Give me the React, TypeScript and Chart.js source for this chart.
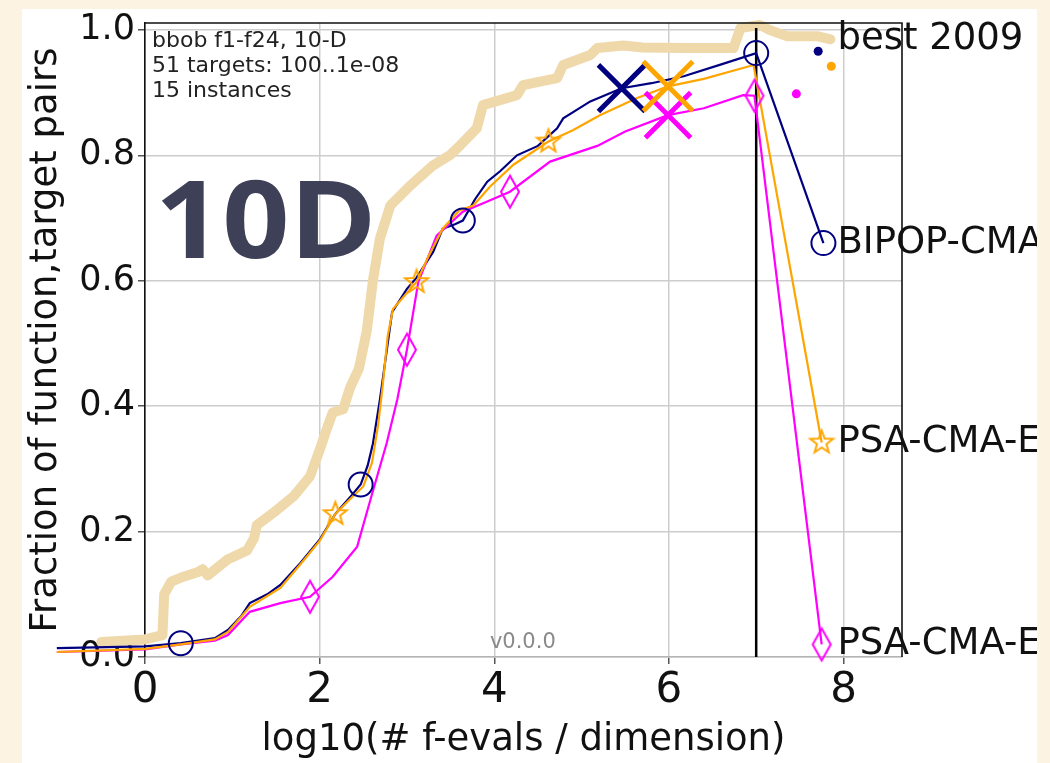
import React, { useEffect, useRef } from 'react';
import { Chart, registerables } from 'chart.js';
Chart.register(...registerables);

// ---- tick labels ----
const xTicks = [0, 2, 4, 6, 8];
const yTicks = [0, 0.2, 0.4, 0.6, 0.8, 1.0];

// ---- best 2009 (reference) ----
const best2009X = [-1.03, -1.03, -0.5, 0.0, 0.2, 0.22, 0.3, 0.44, 0.6, 0.66, 0.72, 0.94, 1.17, 1.25, 1.28, 1.47, 1.7, 1.89, 2.0, 2.08, 2.15, 2.27, 2.35, 2.45, 2.54, 2.61, 2.69, 2.81, 3.04, 3.3, 3.49, 3.61, 3.8, 3.87, 4.26, 4.33, 4.72, 4.79, 5.1, 5.18, 5.48, 5.7, 6.16, 6.74, 6.82, 7.04, 7.15, 7.35, 7.7, 7.85];
const best2009Y = [0.0, 0.02, 0.024, 0.028, 0.035, 0.1, 0.12, 0.128, 0.135, 0.14, 0.13, 0.155, 0.17, 0.19, 0.21, 0.23, 0.256, 0.288, 0.33, 0.363, 0.39, 0.395, 0.43, 0.46, 0.52, 0.6, 0.667, 0.72, 0.752, 0.784, 0.8, 0.816, 0.843, 0.88, 0.896, 0.912, 0.923, 0.944, 0.96, 0.971, 0.975, 0.972, 0.971, 0.971, 1.003, 1.008, 1.0, 0.99, 0.99, 0.985];

// ---- BIPOP-CMA (navy) ----
const bipopX = [-1.01, 0.0, 0.41, 0.8, 0.95, 1.1, 1.2, 1.4, 1.55, 1.78, 2.0, 2.18, 2.35, 2.47, 2.55, 2.61, 2.69, 2.73, 2.78, 2.83, 3.0, 3.11, 3.3, 3.41, 3.55, 3.64, 3.78, 3.92, 4.07, 4.26, 4.5, 4.72, 4.79, 5.1, 5.46, 5.8, 6.17, 6.6, 7.0, 7.77];
const bipopY = [0.014, 0.017, 0.022, 0.03, 0.043, 0.065, 0.086, 0.1, 0.115, 0.15, 0.187, 0.228, 0.255, 0.275, 0.305, 0.34, 0.41, 0.45, 0.5, 0.55, 0.587, 0.605, 0.646, 0.683, 0.69, 0.696, 0.73, 0.758, 0.775, 0.8, 0.815, 0.843, 0.859, 0.886, 0.907, 0.915, 0.926, 0.945, 0.963, 0.66];
const bipopMarkX = [0.41, 2.47, 3.64, 7.0, 7.77];
const bipopMarkY = [0.022, 0.275, 0.696, 0.963, 0.66];

// ---- PSA-CMA-ES (orange) ----
const psaOX = [-1.01, 0.0, 0.41, 0.8, 0.95, 1.2, 1.55, 1.78, 2.0, 2.18, 2.35, 2.5, 2.6, 2.67, 2.72, 2.78, 2.84, 3.11, 3.25, 3.41, 3.6, 3.76, 3.95, 4.22, 4.62, 4.9, 5.21, 5.63, 5.99, 6.4, 6.97, 7.75];
const psaOY = [0.008, 0.013, 0.02, 0.028, 0.04, 0.08, 0.11, 0.148, 0.185, 0.228, 0.252, 0.272, 0.31, 0.37, 0.43, 0.512, 0.555, 0.598, 0.64, 0.683, 0.712, 0.72, 0.75, 0.785, 0.822, 0.84, 0.864, 0.891, 0.91, 0.922, 0.944, 0.342];
const psaOMarkX = [2.18, 3.11, 4.62, 7.75];
const psaOMarkY = [0.228, 0.598, 0.822, 0.342];

// ---- PSA-CMA-ES (magenta) ----
const psaMX = [-1.01, 0.0, 0.41, 0.8, 0.95, 1.2, 1.55, 1.89, 2.15, 2.43, 2.58, 2.77, 2.89, 3.0, 3.13, 3.34, 3.64, 3.9, 4.18, 4.64, 5.18, 5.5, 5.99, 6.4, 6.85, 6.98, 7.75];
const psaMY = [0.008, 0.012, 0.02, 0.026, 0.035, 0.072, 0.086, 0.096, 0.128, 0.176, 0.25, 0.342, 0.411, 0.49, 0.598, 0.672, 0.71, 0.725, 0.742, 0.79, 0.815, 0.838, 0.864, 0.875, 0.896, 0.895, 0.02];
const psaMMarkX = [1.89, 3.0, 4.18, 6.98, 7.75];
const psaMMarkY = [0.096, 0.49, 0.742, 0.895, 0.02];

// ---- median max evals crosses ----
const crossX = [5.46, 5.99, 5.99];
const crossY = [0.907, 0.91, 0.864];
// ---- small dots beyond max evals ----
const dotX = [7.71, 7.86, 7.46];
const dotY = [0.966, 0.942, 0.898];

// ---- budget line ----
const budgetX = [7, 7];
const budgetY = [0, 1.003];

const seriesNames = ['best 2009', 'BIPOP-CMA', 'PSA-CMA-E', 'PSA-CMA-E'];
const infoLines = ['bbob f1-f24, 10-D', '51 targets: 100..1e-08', '15 instances'];
const versionText = 'v0.0.0';
const dimText = '10D';

const NAVY = '#000080';
const ORANGE = '#ffa500';
const MAGENTA = '#ff00ff';
const BEIGE = '#efd9aa';
const CREAM = '#fdf3e2';
const FONT = '"DejaVu Sans", sans-serif';

const pts = (xs: number[], ys: number[]) => xs.map((x, i) => ({ x, y: ys[i] }));

function makeStar(color: string, ro: number, ri: number, lw: number) {
  const size = Math.ceil(2 * ro + 2 * lw + 2);
  const c = document.createElement('canvas');
  c.width = size; c.height = size;
  const g = c.getContext('2d')!;
  g.translate(size / 2, size / 2);
  g.beginPath();
  for (let i = 0; i < 10; i++) {
    const r = i % 2 === 0 ? ro : ri;
    const a = -Math.PI / 2 + (i * Math.PI) / 5;
    const px = r * Math.cos(a), py = r * Math.sin(a);
    if (i === 0) g.moveTo(px, py); else g.lineTo(px, py);
  }
  g.closePath();
  g.strokeStyle = color; g.lineWidth = lw; g.lineJoin = 'miter';
  g.stroke();
  return c;
}

function makeThinDiamond(color: string, hw: number, hh: number, lw: number) {
  const w = Math.ceil(2 * hw + 2 * lw + 2);
  const h = Math.ceil(2 * hh + 2 * lw + 2);
  const c = document.createElement('canvas');
  c.width = w; c.height = h;
  const g = c.getContext('2d')!;
  g.translate(w / 2, h / 2);
  g.beginPath();
  g.moveTo(0, -hh); g.lineTo(hw, 0); g.lineTo(0, hh); g.lineTo(-hw, 0); g.closePath();
  g.strokeStyle = color; g.lineWidth = lw;
  g.stroke();
  return c;
}

export default function App() {
  const ref = useRef<HTMLCanvasElement>(null);
  useEffect(() => {
    const canvas = ref.current!;
    const star = makeStar(ORANGE, 12, 5, 2);
    const diamond = makeThinDiamond(MAGENTA, 9, 16, 2);

    const deco = {
      id: 'deco',
      beforeDraw(chart: any) {
        const ctx = chart.ctx;
        ctx.save();
        ctx.fillStyle = CREAM;
        ctx.fillRect(0, 0, chart.width, chart.height);
        ctx.fillStyle = '#ffffff';
        ctx.fillRect(22, 9, 1015, chart.height - 9);
        ctx.restore();
      },
      afterDraw(chart: any) {
        const ctx = chart.ctx;
        const { left, right, top, bottom } = chart.chartArea;
        const xs = chart.scales.x, ys = chart.scales.y;
        ctx.save();
        // top and right spines
        ctx.strokeStyle = '#111';
        ctx.lineWidth = 1.6;
        ctx.beginPath();
        ctx.moveTo(left, top); ctx.lineTo(right, top); ctx.lineTo(right, bottom);
        ctx.stroke();
        // info text
        ctx.fillStyle = '#222';
        ctx.font = `22px ${FONT}`;
        ctx.textAlign = 'left';
        ctx.textBaseline = 'alphabetic';
        infoLines.forEach((t, i) => ctx.fillText(t, left + 7, top + 24 + i * 25));
        // version
        ctx.fillStyle = '#8a8a8a';
        ctx.font = `21px ${FONT}`;
        ctx.fillText(versionText, xs.getPixelForValue(3.95), bottom - 9);
        // end labels (clipped to figure)
        ctx.beginPath();
        ctx.rect(22, 0, 1015, chart.height);
        ctx.clip();
        ctx.fillStyle = '#111';
        ctx.font = `37px ${FONT}`;
        ctx.textBaseline = 'middle';
        const ends = [best2009Y, bipopY, psaOY, psaMY].map((a) => a[a.length - 1]);
        seriesNames.forEach((n, i) => {
          ctx.fillText(n, xs.getPixelForValue(7.93), ys.getPixelForValue(ends[i]));
        });
        // big dimension tag
        ctx.fillStyle = '#3e4058';
        ctx.font = `bold 108px "Open Sans", ${FONT}`;
        ctx.textBaseline = 'alphabetic';
        ctx.translate(155, 258);
        ctx.scale(1.09, 1);
        ctx.fillText(dimText, 0, 0);
        ctx.restore();
      },
    };

    const noPad = (s: any) => { s.paddingTop = 0; s.paddingBottom = 0; s.paddingLeft = 0; s.paddingRight = 0; };

    const chart = new Chart(canvas, {
      type: 'scatter',
      data: {
        datasets: [
          { data: pts(crossX.slice(0, 1), crossY.slice(0, 1)), pointStyle: 'crossRot', pointRadius: 33, pointBorderWidth: 5, pointBorderColor: NAVY, showLine: false, clip: false, order: 2 } as any,
          { data: pts(crossX.slice(1, 2), crossY.slice(1, 2)), pointStyle: 'crossRot', pointRadius: 35, pointBorderWidth: 5, pointBorderColor: ORANGE, showLine: false, clip: false, order: 1 },
          { data: pts(crossX.slice(2, 3), crossY.slice(2, 3)), pointStyle: 'crossRot', pointRadius: 32, pointBorderWidth: 5, pointBorderColor: MAGENTA, showLine: false, clip: false, order: 3 },
          { data: pts(dotX, dotY), pointRadius: 4.5, pointBackgroundColor: [NAVY, ORANGE, MAGENTA], pointBorderWidth: 0, showLine: false, clip: false, order: 1 },
          { data: pts(bipopMarkX, bipopMarkY), pointStyle: 'circle', pointRadius: 12, pointBorderWidth: 2, pointBorderColor: NAVY, pointBackgroundColor: 'rgba(0,0,0,0)', showLine: false, clip: false, order: 4 },
          { data: pts(psaOMarkX, psaOMarkY), pointStyle: star, pointRadius: 12, showLine: false, clip: false, order: 4 },
          { data: pts(psaMMarkX, psaMMarkY), pointStyle: diamond, pointRadius: 16, showLine: false, clip: false, order: 4 },
          { data: pts(psaOX, psaOY), showLine: true, borderColor: ORANGE, borderWidth: 2.2, pointRadius: 0, clip: false, order: 6 },
          { data: pts(psaMX, psaMY), showLine: true, borderColor: MAGENTA, borderWidth: 2.2, pointRadius: 0, clip: false, order: 7 },
          { data: pts(bipopX, bipopY), showLine: true, borderColor: NAVY, borderWidth: 2.2, pointRadius: 0, clip: false, order: 8 },
          { data: pts(budgetX, budgetY), showLine: true, borderColor: '#000', borderWidth: 2.5, pointRadius: 0, clip: false, order: 9 },
          { data: pts(best2009X, best2009Y), showLine: true, borderColor: BEIGE, borderWidth: 10, borderJoinStyle: 'round', borderCapStyle: 'round', pointRadius: 0, clip: false, order: 10 },
        ],
      },
      options: {
        responsive: false,
        animation: false,
        events: [],
        devicePixelRatio: 1,
        layout: { autoPadding: false, padding: { left: 0, right: 148, top: 23, bottom: 0 } },
        plugins: { legend: { display: false }, tooltip: { enabled: false } },
        scales: {
          x: {
            type: 'linear',
            min: 0,
            max: 8.67,
            afterBuildTicks: (s: any) => { s.ticks = xTicks.map((v) => ({ value: v })); },
            afterFit: (s: any) => { s.height = 106; noPad(s); },
            ticks: { color: '#111', font: { family: FONT, size: 42 }, padding: 2, callback: (v: any) => String(v) },
            grid: { color: '#cdcdcd', lineWidth: 1.5, tickColor: '#555', tickLength: 7, tickWidth: 1.5 },
            border: { display: true, color: '#b5b5b5', width: 1.5 },
            title: { display: true, text: 'log10(# f-evals / dimension)', color: '#111', font: { family: FONT, size: 37 }, padding: { top: 0, bottom: 0 } },
          },
          y: {
            type: 'linear',
            min: 0,
            max: 1.011,
            afterBuildTicks: (s: any) => { s.ticks = yTicks.map((v) => ({ value: v })); },
            afterFit: (s: any) => { s.width = 145; noPad(s); },
            ticks: { color: '#111', font: { family: FONT, size: 35 }, padding: 3, callback: (v: any) => Number(v).toFixed(1) },
            grid: { color: '#cdcdcd', lineWidth: 1.5, tickColor: '#555', tickLength: 7, tickWidth: 1.5 },
            border: { display: true, color: '#111', width: 1.6 },
            title: { display: true, text: 'Fraction of function,target pairs', color: '#111', font: { family: FONT, size: 37 }, padding: { top: 24, bottom: 0 } },
          },
        },
      },
      plugins: [deco],
    } as any);
    return () => chart.destroy();
  }, []);
  return (
    <div style={{ position: 'fixed', left: 0, top: 0, width: 1050, height: 763 }}>
      <canvas ref={ref} width={1050} height={763} style={{ display: 'block', width: 1050, height: 763 }} />
    </div>
  );
}
